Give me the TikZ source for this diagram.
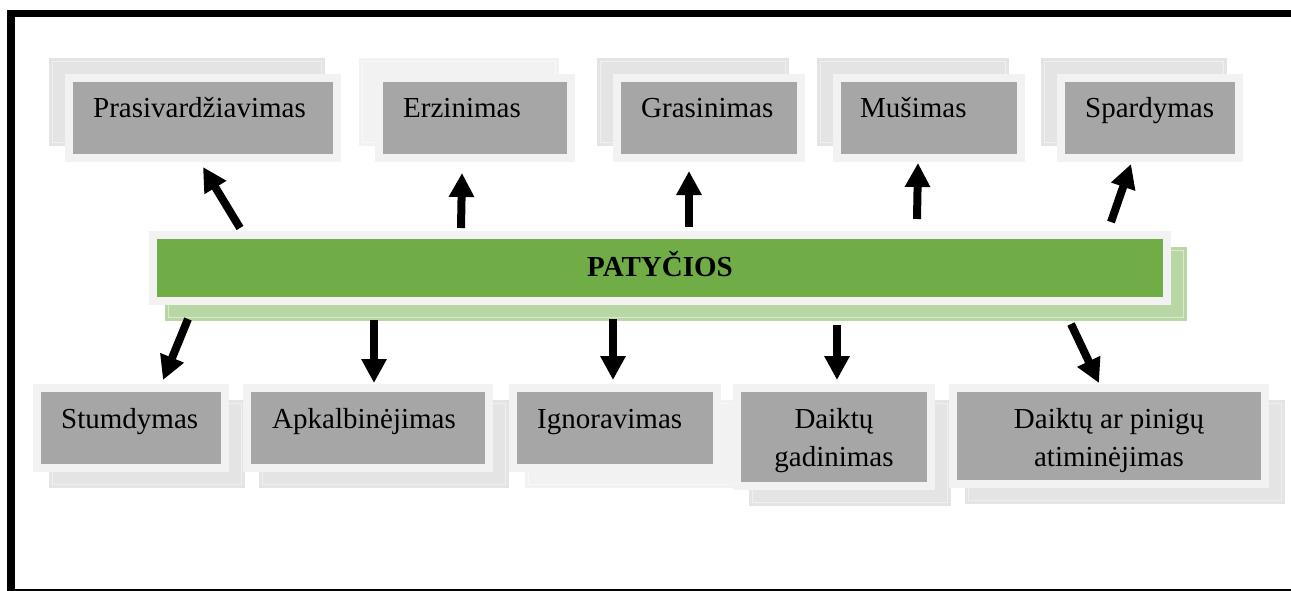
\documentclass[tikz,border=0pt]{standalone}
\usepackage{fontspec}
\setmainfont{Liberation Serif}
\usetikzlibrary{arrows.meta}
\definecolor{grayc}{HTML}{A6A6A6}
\definecolor{framec}{HTML}{F2F2F2}
\definecolor{shadc}{HTML}{E4E4E4}
\definecolor{greenc}{HTML}{70AD47}
\definecolor{gshad}{HTML}{B9D7A5}
% #1 name, #2-#5 inner box x1 y1 x2 y2, #6 #7 shadow shift, #8 shadow colour, #9 fill colour
\newcommand\cardbox[9]{%
  \fill[#8] ({#2-8+#6},{#3-8+#7}) rectangle ({#4+8+#6},{#5+8+#7});
  \draw[#8!55!white, line width=1pt] ({#2-4.5+#6},{#3-4.5+#7}) rectangle ({#4+4.5+#6},{#5+4.5+#7});
  \node[cardnode, fill=#9, minimum width={#4-#2+8}, minimum height={#5-#3+8}]
    (#1) at ({(#2+#4)/2},{(#3+#5)/2}) {};
}
\begin{document}
\begin{tikzpicture}[x=1pt,y=-1pt,
  cardnode/.style={draw=framec, line width=8pt, inner sep=0pt},
  lbl/.style={font=\fontsize{29}{38.5}\selectfont, inner sep=0pt, text=black},
  arr/.style={line width=8pt, -{Triangle[length=24pt,width=24pt]}}]
\useasboundingbox (0,0) rectangle (1291,591);
\fill[white] (0,0) rectangle (1291,591);
% frame
\draw[line width=7.5pt] (7,13.5) -- (1291,13.5);
\draw[line width=8pt] (11,10) -- (11,591);
\draw[line width=2pt] (7,590) -- (1291,590);

% top cards
\cardbox{p}{73}{82}{333}{154}{-16}{-16}{shadc}{grayc}
\cardbox{e}{383}{82}{567}{154}{-16}{-16}{framec}{grayc}
\cardbox{g}{621}{82}{797}{154}{-16}{-16}{shadc}{grayc}
\cardbox{m}{841}{82}{1017}{154}{-16}{-16}{shadc}{grayc}
\cardbox{s}{1065}{82}{1235}{154}{-16}{-16}{shadc}{grayc}
% central bar
\cardbox{main}{157}{239}{1163}{297}{16}{16}{gshad}{greenc}
% bottom cards
\cardbox{st}{41}{392}{221}{464}{16}{16}{shadc}{grayc}
\cardbox{ap}{251}{392}{485}{464}{16}{16}{shadc}{grayc}
\cardbox{ig}{517}{392}{713}{464}{16}{16}{framec}{grayc}
\cardbox{dg}{741}{392}{927}{482}{16}{16}{shadc}{grayc}
\cardbox{da}{957}{392}{1261}{480}{16}{16}{shadc}{grayc}

% labels
\node[lbl, anchor=base west] (tp) at (93,118) {Prasivardžiavimas};
\node[lbl, anchor=base west] (te) at (403,118) {Erzinimas};
\node[lbl, anchor=base west] (tg) at (641,118) {Grasinimas};
\node[lbl, anchor=base west] (tm) at (860,118) {Mušimas};
\node[lbl, anchor=base west] (ts) at (1085,118) {Spardymas};
\node[lbl, anchor=base, font=\fontsize{29}{34}\selectfont\bfseries] (tmain) at (660,276) {PATYČIOS};
\node[lbl, anchor=base west] (tst) at (61,428) {Stumdymas};
\node[lbl, anchor=base west] (tap) at (272,428) {Apkalbinėjimas};
\node[lbl, anchor=base west] (tig) at (537,428) {Ignoravimas};
\node[lbl, anchor=base, align=center] (tdg) at (834,466.5) {Daiktų\\gadinimas};
\node[lbl, anchor=base, align=center] (tda) at (1109,466.5) {Daiktų ar pinigų\\atiminėjimas};

% arrow ends
\coordinate (a1s) at (240,228); \coordinate (a1e) at (203,167);
\coordinate (a2s) at (461,228); \coordinate (a2e) at (462,173);
\coordinate (a3s) at (689,227); \coordinate (a3e) at (689,171);
\coordinate (a4s) at (917,219); \coordinate (a4e) at (918,163);
\coordinate (a5s) at (1111,222); \coordinate (a5e) at (1131,164);
\coordinate (b1s) at (188,319); \coordinate (b1e) at (163,380);
\coordinate (b2s) at (374,320); \coordinate (b2e) at (374,383);
\coordinate (b3s) at (613,319); \coordinate (b3e) at (613,380);
\coordinate (b4s) at (837,325); \coordinate (b4e) at (837,380);
\coordinate (b5s) at (1071,324); \coordinate (b5e) at (1099,383);
\foreach \i in {a1,a2,a3,a4,a5,b1,b2,b3,b4,b5}
  \draw[arr] (\i s) -- (\i e);
\end{tikzpicture}
\end{document}
